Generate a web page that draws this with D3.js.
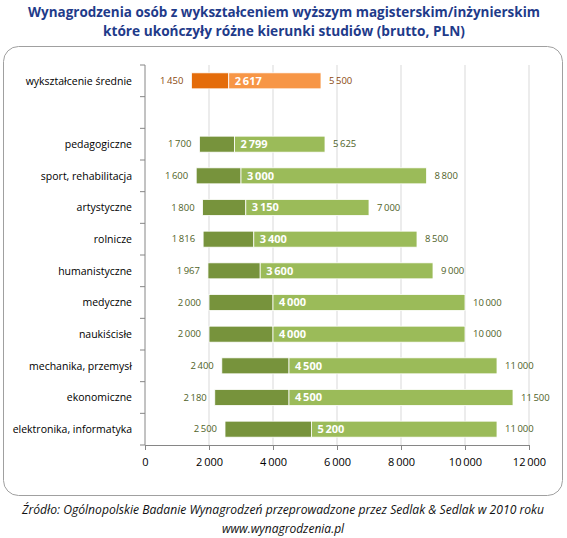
<!DOCTYPE html>
<html>
<head>
<meta charset="utf-8" />
<script src="https://d3js.org/d3.v7.min.js"></script>
<style>
  body { margin: 0; background: #fff; }
  text { font-family: "Open Sans", "Noto Sans", sans-serif; }
  .title { font-weight: bold; fill: #1F3B8A; font-size: 14px; }
  .cat { font-size: 10.5px; fill: #000; }
  .val { font-size: 9.5px; }
  .mid { font-size: 11px; font-weight: bold; fill: #fff; }
  .tick text { font-size: 11px; fill: #000; }
  .foot { font-style: italic; font-size: 12px; fill: #111; }
</style>
</head>
<body>
<div id="chart"></div>
<script>
var w = 567, h = 538;

// data
var categories = ["wykształcenie średnie", " ", "pedagogiczne", "sport, rehabilitacja",
  "artystyczne", "rolnicze", "humanistyczne", "medyczne", "naukiścisłe",
  "mechanika, przemysł", "ekonomiczne", "elektronika, informatyka"];
var low    = [1450, null, 1700, 1600, 1800, 1816, 1967, 2000, 2000, 2400, 2180, 2500];
var median = [2617, null, 2799, 3000, 3150, 3400, 3600, 4000, 4000, 4500, 4500, 5200];
var high   = [5500, null, 5625, 8800, 7000, 8500, 9000, 10000, 10000, 11000, 11500, 11000];
var xTicks = [0, 2000, 4000, 6000, 8000, 10000, 12000];

var titleLines = ["Wynagrodzenia osób z wykształceniem wyższym magisterskim/inżynierskim",
  "które ukończyły różne kierunki studiów (brutto, PLN)"];
var footLines = ["Źródło: Ogólnopolskie Badanie Wynagrodzeń przeprowadzone przez  Sedlak & Sedlak w 2010 roku",
  "www.wynagrodzenia.pl"];

var loc = d3.formatLocale({decimal: ",", thousands: "\u2009", grouping: [3], currency: ["", ""]});
var fmt = loc.format(",d");

var svg = d3.select("#chart").append("svg")
  .attr("width", w).attr("height", h);

// frame
svg.append("rect")
  .attr("x", 3.5).attr("y", 46.5).attr("width", 559).attr("height", 449)
  .attr("rx", 15).attr("ry", 15)
  .attr("fill", "#fff").attr("stroke", "#A0A0A0");

// title
svg.selectAll("text.title").data(titleLines).enter().append("text")
  .attr("class", "title")
  .attr("x", function(d, i) { return i == 0 ? 28 : 103; })
  .attr("y", function(d, i) { return 17 + i * 19; })
  .attr("textLength", function(d, i) { return i == 0 ? 512 : 362; })
  .attr("lengthAdjust", "spacingAndGlyphs")
  .text(function(d) { return d; });

var x = d3.scaleLinear().domain([0, 12000]).range([145, 529]);
var y = d3.scaleBand().domain(categories).range([65, 445]).paddingInner(0).paddingOuter(0);

// gridlines
svg.append("g").selectAll("line").data(xTicks.slice(1)).enter().append("line")
  .attr("x1", function(d) { return x(d); }).attr("x2", function(d) { return x(d); })
  .attr("y1", 65).attr("y2", 445)
  .attr("stroke", "#D9D9D9");

// x axis
var xa = svg.append("g").attr("transform", "translate(0,445)")
  .call(d3.axisBottom(x).tickValues(xTicks).tickFormat(fmt).tickSize(5).tickPadding(8));
xa.select(".domain").attr("stroke", "#868686");
xa.selectAll(".tick line").attr("stroke", "#868686");

// y axis with ticks between categories
svg.append("line").attr("x1", 145).attr("x2", 145).attr("y1", 65).attr("y2", 445)
  .attr("stroke", "#868686");
svg.append("g").selectAll("line").data(d3.range(categories.length + 1)).enter().append("line")
  .attr("x1", 140).attr("x2", 145)
  .attr("y1", function(i) { return 65 + i * y.step(); })
  .attr("y2", function(i) { return 65 + i * y.step(); })
  .attr("stroke", "#868686");

svg.append("g").selectAll("text").data(categories).enter().append("text")
  .attr("class", "cat")
  .attr("x", 132)
  .attr("y", function(d) { return y(d) + y.bandwidth() / 2; })
  .attr("dy", "0.35em")
  .attr("text-anchor", "end")
  .text(function(d) { return d.trim(); });

var rows = categories.map(function(c, i) {
  return {cat: c, lo: low[i], me: median[i], hi: high[i], first: i == 0};
}).filter(function(d) { return d.lo != null; });

var bh = 16;
var g = svg.append("g").selectAll("g").data(rows).enter().append("g")
  .attr("transform", function(d) { return "translate(0," + (y(d.cat) + y.bandwidth() / 2) + ")"; });

g.append("rect")
  .attr("x", function(d) { return x(d.lo); })
  .attr("y", -bh / 2).attr("height", bh)
  .attr("width", function(d) { return x(d.me) - x(d.lo); })
  .attr("fill", function(d) { return d.first ? "#E46C0A" : "#77933C"; })
  .attr("stroke", "#fff").attr("stroke-width", 0.8);

g.append("rect")
  .attr("x", function(d) { return x(d.me); })
  .attr("y", -bh / 2).attr("height", bh)
  .attr("width", function(d) { return x(d.hi) - x(d.me); })
  .attr("fill", function(d) { return d.first ? "#F79646" : "#9BBB59"; })
  .attr("stroke", "#fff").attr("stroke-width", 0.8);

g.append("text").attr("class", "val")
  .attr("x", function(d) { return x(d.lo) - 8; })
  .attr("dy", "0.35em").attr("text-anchor", "end")
  .attr("fill", function(d) { return d.first ? "#8A4A10" : "#4F6228"; })
  .text(function(d) { return fmt(d.lo); });

g.append("text").attr("class", "val")
  .attr("x", function(d) { return x(d.hi) + 8; })
  .attr("dy", "0.35em")
  .attr("fill", function(d) { return d.first ? "#8A4A10" : "#4F6228"; })
  .text(function(d) { return fmt(d.hi); });

g.append("text").attr("class", "mid")
  .attr("x", function(d) { return x(d.me) + 6; })
  .attr("dy", "0.36em")
  .text(function(d) { return fmt(d.me); });

// source
svg.selectAll("text.foot").data(footLines).enter().append("text")
  .attr("class", "foot")
  .attr("x", 283).attr("text-anchor", "middle")
  .attr("y", function(d, i) { return 514 + i * 19; })
  .attr("textLength", function(d, i) { return i == 0 ? 522 : null; })
  .attr("lengthAdjust", "spacingAndGlyphs")
  .text(function(d) { return d; });
</script>
</body>
</html>
